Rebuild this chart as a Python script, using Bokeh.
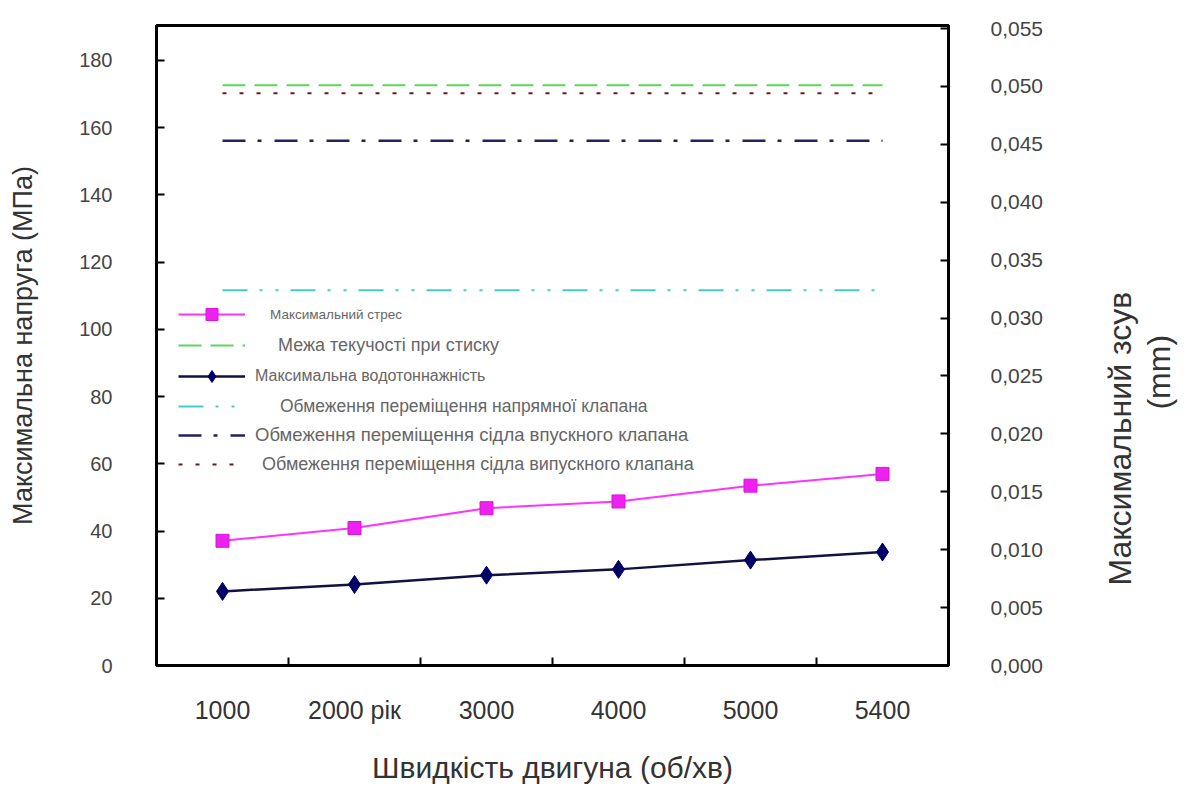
import math
import json
from bokeh.plotting import figure
from bokeh.models import (Range1d, LinearAxis, FixedTicker, CustomJSTickFormatter,
                          Legend, LegendItem)
from bokeh.embed import file_html
from bokeh.resources import INLINE

# ---------------- data ----------------
rpm_labels = ["1000", "2000 рік", "3000", "4000", "5000", "5400"]
max_stress_mpa = [37.1, 40.9, 46.8, 48.8, 53.5, 57.0]
max_disp_mm = [0.0064, 0.0070, 0.0078, 0.0083, 0.0091, 0.0098]
yield_limit_mpa = 172.6
guide_limit_mm = 0.0324
intake_seat_limit_mm = 0.0453
exhaust_seat_limit_mm = 0.0494
stress_ticks = [0, 20, 40, 60, 80, 100, 120, 140, 160, 180]
disp_ticks = [0.000, 0.005, 0.010, 0.015, 0.020, 0.025, 0.030, 0.035, 0.040, 0.045, 0.050, 0.055]

legend_labels = [
    "Максимальний стрес",
    "Межа текучості при стиску",
    "Максимальна водотоннажність",
    "Обмеження переміщення напрямної клапана",
    "Обмеження переміщення сідла впускного клапана",
    "Обмеження переміщення сідла випускного клапана",
]
right_title_lines = ["Максимальний зсув", "(mm)"]

n = len(rpm_labels)
x_idx = list(range(n))
boundaries = [i + 0.5 for i in x_idx[:-1]]

FONT = "Liberation Sans"

p = figure(width=1199, height=786,
           x_range=Range1d(-0.5, n - 0.5), y_range=Range1d(0, 190.4),
           output_backend="svg", toolbar_location=None,
           min_border_left=156, min_border_right=251,
           min_border_top=25, min_border_bottom=120)
p.extra_y_ranges = {"disp": Range1d(0, 0.05526)}
p.grid.visible = False
p.outline_line_color = "black"
p.outline_line_width = 3
p.background_fill_color = "white"
p.border_fill_color = "white"

# bottom axis
xa = p.xaxis[0]
xa.ticker = FixedTicker(ticks=x_idx, minor_ticks=boundaries)
xa.major_label_overrides = {i: lab for i, lab in zip(x_idx, rpm_labels)}
xa.major_tick_in = 0
xa.major_tick_out = 0
xa.minor_tick_in = 8
xa.minor_tick_out = 0
xa.minor_tick_line_width = 2
xa.axis_line_width = 3
xa.major_label_standoff = 30
xa.major_label_text_font = FONT
xa.major_label_text_font_size = "25px"
xa.major_label_text_color = "#333333"
xa.axis_label = "Швидкість двигуна (об/хв)"
xa.axis_label_standoff = 24
xa.axis_label_text_font = FONT
xa.axis_label_text_font_size = "30px"
xa.axis_label_text_font_style = "normal"
xa.axis_label_text_color = "#333333"

# left axis
ya = p.yaxis[0]
ya.ticker = FixedTicker(ticks=stress_ticks)
ya.major_tick_in = 8
ya.major_tick_out = 0
ya.major_tick_line_width = 2
ya.minor_tick_in = 0
ya.minor_tick_out = 0
ya.axis_line_width = 3
ya.major_label_standoff = 44
ya.major_label_text_font = FONT
ya.major_label_text_font_size = "20px"
ya.major_label_text_color = "#444444"
ya.axis_label = "Максимальна напруга (МПа)"
ya.axis_label_standoff = 38
ya.axis_label_text_font = FONT
ya.axis_label_text_font_size = "27px"
ya.axis_label_text_font_style = "normal"
ya.axis_label_text_color = "#333333"

# right axis
ra = LinearAxis(y_range_name="disp", ticker=FixedTicker(ticks=disp_ticks),
                formatter=CustomJSTickFormatter(code="return tick.toFixed(3).replace('.', ',');"))
ra.major_tick_in = 8
ra.major_tick_out = 0
ra.major_tick_line_width = 2
ra.minor_tick_in = 0
ra.minor_tick_out = 0
ra.axis_line_width = 3
ra.major_label_standoff = 42
ra.major_label_text_font = FONT
ra.major_label_text_font_size = "21px"
ra.major_label_text_color = "#444444"
p.add_layout(ra, "right")

# right axis title: two lines reading bottom-to-top; each line is the single label of a
# label-only axis, starting at the given height (right-axis units)
title_start = [0.0069, 0.0221]
title_standoff = [74, 0]
for txt, start, so in zip(right_title_lines, title_start, title_standoff):
    ta = LinearAxis(y_range_name="disp", ticker=FixedTicker(ticks=[start]),
                    formatter=CustomJSTickFormatter(code="return %s;" % json.dumps(txt)))
    ta.axis_line_alpha = 0
    ta.major_tick_in = 0
    ta.major_tick_out = 0
    ta.minor_tick_in = 0
    ta.minor_tick_out = 0
    ta.major_label_standoff = so
    ta.major_label_orientation = math.pi / 2
    ta.major_label_text_font = FONT
    ta.major_label_text_font_size = "32px"
    ta.major_label_text_color = "#333333"
    p.add_layout(ta, "right")

# ---------------- renderers ----------------
r_yield = p.line(x_idx, [yield_limit_mpa] * n, line_color="#5ed65e", line_width=2,
                 line_dash="23 9")
r_exhaust = p.line(x_idx, [exhaust_seat_limit_mm] * n, y_range_name="disp",
                   line_color="#6a1a1a", line_width=2, line_dash="4 13")
r_intake = p.line(x_idx, [intake_seat_limit_mm] * n, y_range_name="disp",
                  line_color="#22225e", line_width=2.5, line_dash="23 12 4 13")
r_guide = p.line(x_idx, [guide_limit_mm] * n, y_range_name="disp",
                 line_color="#44cccc", line_width=2, line_dash="25 12 3 13 3 12")

r_stress_line = p.line(x_idx, max_stress_mpa, line_color="#ff33ff", line_width=2)
r_stress_pts = p.scatter(x_idx, max_stress_mpa, marker="square", size=13,
                         fill_color="#ee22ee", line_color="#dd11dd")
r_disp_line = p.line(x_idx, max_disp_mm, y_range_name="disp", line_color="#111144",
                     line_width=2.5)
r_disp_pts = p.scatter(x_idx, max_disp_mm, y_range_name="disp", marker="diamond",
                       size=18, fill_color="#000066", line_color="#000066")

# ---------------- legend (one box per entry, as in the original) ----------------
legend_renderers = [
    [r_stress_line, r_stress_pts],
    [r_yield],
    [r_disp_line, r_disp_pts],
    [r_guide],
    [r_intake],
    [r_exhaust],
]
legend_font_sizes = ["13.5px", "18px", "16px", "17.5px", "18.5px", "18px"]
legend_standoffs = [25, 33, 10, 35, 10, 17]
legend_rows_y = [336, 305, 274, 244, 215, 186]

for lab, rends, fs, so, yy in zip(legend_labels, legend_renderers, legend_font_sizes,
                                  legend_standoffs, legend_rows_y):
    leg = Legend(items=[LegendItem(label=lab, renderers=rends)],
                 location=(22, yy), glyph_width=67, glyph_height=30, label_height=30,
                 label_standoff=so, label_text_font=FONT, label_text_font_size=fs,
                 label_text_color="#666666", border_line_alpha=0,
                 background_fill_alpha=0, padding=0, margin=0, spacing=0)
    p.add_layout(leg)

open("out.html", "w").write(file_html(p, INLINE))
